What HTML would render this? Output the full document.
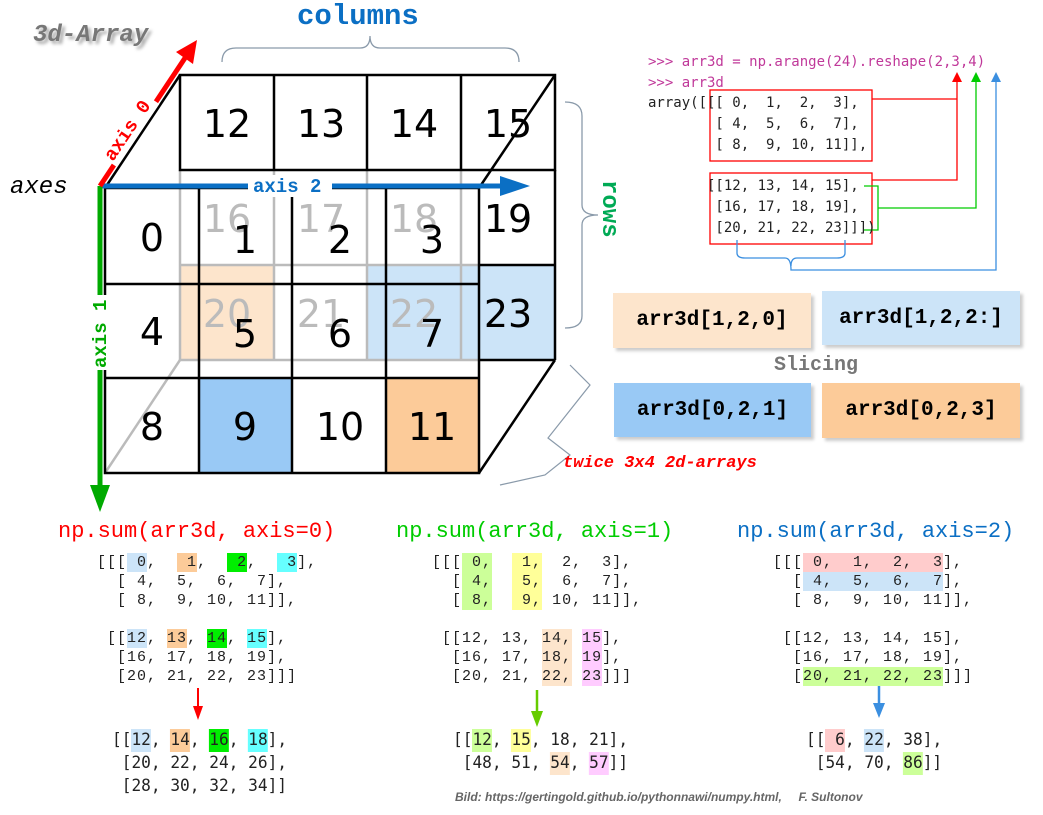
<!DOCTYPE html>
<html><head><meta charset="utf-8"><style>
body{margin:0;background:#fff;width:1043px;height:815px;position:relative;overflow:hidden;font-family:"Liberation Sans",sans-serif}
.a{position:absolute;white-space:pre}
.code{font-family:"Liberation Mono",monospace;font-size:15px;letter-spacing:1px;line-height:19px;color:#222}
.res{font-family:"DejaVu Sans Mono","Liberation Mono",monospace;font-size:17px;line-height:23px;color:#222;transform:scaleX(0.95);transform-origin:left}
.code span,.res span{display:inline-block;line-height:19px;height:19px}
.res span{line-height:23px;height:23px}
.bl{background:#cce4f8}.or{background:#fccb99}.gr{background:#00ee00}.cy{background:#66ffff}
.lg{background:#ccff99}.ye{background:#ffff99}.pe{background:#fde5cc}.pk{background:#ffccff}.rd{background:#ffcccc}
.box{position:absolute;font-family:"Liberation Mono",monospace;font-weight:bold;font-size:21px;color:#000;display:flex;align-items:center;justify-content:center;box-shadow:3px 3px 3px #ccc}
</style></head><body>
<svg width="1043" height="815" style="position:absolute;left:0;top:0">
<rect x="180" y="265" width="94" height="95" fill="#fde5cc"/>
<rect x="367" y="265" width="188" height="95" fill="#cce4f8"/>
<rect x="199" y="378" width="93" height="95" fill="#99c9f5"/>
<rect x="386" y="378" width="93" height="95" fill="#fccb99"/>
<g stroke="#bbb" stroke-width="2.5">
<line x1="180" y1="170" x2="180" y2="360"/><line x1="274" y1="170" x2="274" y2="360"/>
<line x1="367" y1="170" x2="367" y2="360"/><line x1="461" y1="170" x2="461" y2="360"/>
<line x1="180" y1="265" x2="479" y2="265"/><line x1="180" y1="360" x2="479" y2="360"/>
<line x1="180" y1="360" x2="105" y2="473"/>
</g>
<g font-family="DejaVu Sans,sans-serif" font-size="38" fill="#bbb" text-anchor="middle">
<text x="227" y="232">16</text><text x="321" y="232">17</text><text x="414" y="232">18</text>
<text x="227" y="327">20</text><text x="321" y="327">21</text><text x="414" y="327">22</text>
</g>
<g stroke="#000" stroke-width="2.5" fill="none">
<rect x="180" y="75" width="375" height="95"/>
<line x1="274" y1="75" x2="274" y2="170"/><line x1="367" y1="75" x2="367" y2="170"/><line x1="461" y1="75" x2="461" y2="170"/>
<line x1="555" y1="170" x2="555" y2="360"/>
<line x1="479" y1="265" x2="555" y2="265"/><line x1="479" y1="360" x2="555" y2="360"/>
<line x1="555" y1="75" x2="479" y2="188"/><line x1="555" y1="360" x2="479" y2="473"/>
<line x1="105" y1="188" x2="180" y2="75"/>
<rect x="105" y="188" width="374" height="285"/>
<line x1="199" y1="188" x2="199" y2="473"/><line x1="292" y1="188" x2="292" y2="473"/><line x1="386" y1="188" x2="386" y2="473"/>
<line x1="105" y1="284" x2="479" y2="284"/><line x1="105" y1="378" x2="479" y2="378"/>
</g>
<g font-family="DejaVu Sans,sans-serif" font-size="38" fill="#000" text-anchor="middle">
<text x="227" y="137">12</text><text x="321" y="137">13</text><text x="414" y="137">14</text><text x="508" y="137">15</text>
<text x="508" y="232">19</text><text x="508" y="327">23</text>
<text x="152" y="251">0</text><text x="245" y="253">1</text><text x="340" y="253">2</text><text x="432" y="253">3</text>
<text x="152" y="345">4</text><text x="245" y="347">5</text><text x="340" y="347">6</text><text x="432" y="347">7</text>
<text x="152" y="440">8</text><text x="245" y="440">9</text><text x="340" y="440">10</text><text x="432" y="440">11</text>
</g>
<path d="M222,62 Q222,48 236,48 L360,48 Q370,48 370,36 Q370,48 380,48 L505,48 Q519,48 519,62" stroke="#8a9aaa" stroke-width="1.3" fill="none"/>
<path d="M565,102 Q582,102 582,116 L582,205 Q582,215 598,215 Q582,215 582,225 L582,316 Q582,328 565,328" stroke="#8a9aaa" stroke-width="1.3" fill="none"/>
<path d="M570,365 L590,385 L548,438 L570,455 L545,475 L500,485" stroke="#8a9aaa" stroke-width="1.2" fill="none"/>
<line x1="100" y1="186" x2="510" y2="186" stroke="#0b6fc4" stroke-width="5"/>
<path d="M500,176 L530,186 L500,196z" fill="#0b6fc4"/>
<rect x="248" y="175" width="84" height="22" fill="#fff"/>
<line x1="100" y1="186" x2="100" y2="488" stroke="#0a0" stroke-width="5"/>
<path d="M90,485 L100,512 L110,485z" fill="#0a0"/>
<rect x="88" y="295" width="24" height="75" fill="#fff"/>
<line x1="100" y1="186" x2="185" y2="58" stroke="#f00" stroke-width="5"/>
<path d="M176,52 L197,40 L193,64z" fill="#f00"/>
<g transform="translate(113,162) rotate(-56)">
<rect x="-2" y="-16" width="76" height="22" fill="#fff"/>
<text x="0" y="0" font-family="Liberation Mono,monospace" font-weight="bold" font-size="19" fill="#f00">axis 0</text>
</g>
<text x="253" y="192" font-family="Liberation Mono,monospace" font-weight="bold" font-size="19" fill="#0b6fc4">axis 2</text>
<text x="0" y="0" transform="translate(106,368) rotate(-90)" font-family="Liberation Mono,monospace" font-weight="bold" font-size="19" fill="#0a0">axis 1</text>
<rect x="710" y="90" width="162" height="71" fill="none" stroke="#f00" stroke-width="1.3"/>
<rect x="710" y="173" width="162" height="71" fill="none" stroke="#f00" stroke-width="1.3"/>
<path d="M872,99 L957,99 L957,80 M872,180 L957,180 L957,99" stroke="#f00" stroke-width="1.3" fill="none"/>
<path d="M952,82 L957,72 L962,82z" fill="#f00"/>
<path d="M864,186 L878,186 L878,230 L864,230 M878,208 L976,208 L976,80" stroke="#0c0" stroke-width="1.3" fill="none"/>
<path d="M971,82 L976,72 L981,82z" fill="#0c0"/>
<path d="M737,240 L737,253 Q737,258 745,258 L785,258 Q791,258 791,270 L996,270 L996,80 M845,240 L845,253 Q845,258 837,258 L797,258 Q791,258 791,266" stroke="#3b8fe0" stroke-width="1.3" fill="none"/>
<path d="M991,82 L996,72 L1001,82z" fill="#3b8fe0"/>
<line x1="198" y1="688" x2="198" y2="708" stroke="#f00" stroke-width="2"/><path d="M193,706 L198,720 L203,706z" fill="#f00"/>
<line x1="537" y1="690" x2="537" y2="713" stroke="#6c0" stroke-width="2.5"/><path d="M531,711 L537,727 L543,711z" fill="#6c0"/>
<line x1="879" y1="683" x2="879" y2="705" stroke="#3b8fe0" stroke-width="2.5"/><path d="M873,703 L879,718 L885,703z" fill="#3b8fe0"/>
</svg>

<div class="a" style="left:33px;top:22px;font:italic bold 24px 'Liberation Mono',monospace;color:#777;text-shadow:3px 3px 3px #aaa">3d-Array</div>
<div class="a" style="left:297px;top:0px;font:bold 29px 'Liberation Mono',monospace;color:#0b6fc4">columns</div>
<div class="a" style="left:10px;top:174px;font:italic 24px 'Liberation Mono',monospace;color:#000">axes</div>
<div class="a" style="top:180px;font:bold 24px 'Liberation Mono',monospace;color:#0a5;transform:rotate(90deg);transform-origin:left top;left:622px">rows</div>
<div class="a" style="left:563px;top:454px;font:italic bold 17px 'Liberation Mono',monospace;color:#f00">twice 3x4 2d-arrays</div>

<div class="a" style="left:648px;top:52px;font:14px/20.7px 'DejaVu Sans Mono','Liberation Mono',monospace;color:#222"><span style="color:#c0399a">&gt;&gt;&gt; arr3d = np.arange(24).reshape(2,3,4)
&gt;&gt;&gt; arr3d</span>
array([[[ 0,  1,  2,  3],
        [ 4,  5,  6,  7],
        [ 8,  9, 10, 11]],

       [[12, 13, 14, 15],
        [16, 17, 18, 19],
        [20, 21, 22, 23]]])</div>

<div class="box" style="left:613px;top:293px;width:198px;height:55px;background:#fde5cc">arr3d[1,2,0]</div>
<div class="box" style="left:822px;top:291px;width:198px;height:54px;background:#cce4f8">arr3d[1,2,2:]</div>
<div class="a" style="left:774px;top:354px;font:bold 20px 'Liberation Mono',monospace;color:#777">Slicing</div>
<div class="box" style="left:614px;top:383px;width:197px;height:54px;background:#99c9f5">arr3d[0,2,1]</div>
<div class="box" style="left:822px;top:383px;width:198px;height:55px;background:#fccb99">arr3d[0,2,3]</div>

<div class="a" style="left:58px;top:519px;font:22px 'Liberation Mono',monospace;color:#f00">np.sum(arr3d, axis=0)</div>
<div class="a" style="left:396px;top:519px;font:22px 'Liberation Mono',monospace;color:#0c0">np.sum(arr3d, axis=1)</div>
<div class="a" style="left:737px;top:519px;font:22px 'Liberation Mono',monospace;color:#0b6fc4">np.sum(arr3d, axis=2)</div>

<div class="a code" style="left:97px;top:553px">[[[<span class="bl"> 0</span>,  <span class="or"> 1</span>,  <span class="gr"> 2</span>,  <span class="cy"> 3</span>],
  [ 4,  5,  6,  7],
  [ 8,  9, 10, 11]],

 [[<span class="bl">12</span>, <span class="or">13</span>, <span class="gr">14</span>, <span class="cy">15</span>],
  [16, 17, 18, 19],
  [20, 21, 22, 23]]]</div>
<div class="a res" style="left:112px;top:729px">[[<span class="bl">12</span>, <span class="or">14</span>, <span class="gr">16</span>, <span class="cy">18</span>],
 [20, 22, 24, 26],
 [28, 30, 32, 34]]</div>

<div class="a code" style="left:432px;top:553px">[[[<span class="lg"> 0,</span>  <span class="ye"> 1,</span>  2,  3],
  [<span class="lg"> 4,</span>  <span class="ye"> 5,</span>  6,  7],
  [<span class="lg"> 8,</span>  <span class="ye"> 9,</span> 10, 11]],

 [[12, 13, <span class="pe">14,</span> <span class="pk">15</span>],
  [16, 17, <span class="pe">18,</span> <span class="pk">19</span>],
  [20, 21, <span class="pe">22,</span> <span class="pk">23</span>]]]</div>
<div class="a res" style="left:453px;top:729px">[[<span class="lg">12</span>, <span class="ye">15</span>, 18, 21],
 [48, 51, <span class="pe">54</span>, <span class="pk">57</span>]]</div>

<div class="a code" style="left:773px;top:553px">[[[<span class="rd"> 0,  1,  2,  3</span>],
  [<span class="bl"> 4,  5,  6,  7</span>],
  [ 8,  9, 10, 11]],

 [[12, 13, 14, 15],
  [16, 17, 18, 19],
  [<span class="lg">20, 21, 22, 23</span>]]]</div>
<div class="a res" style="left:806px;top:729px">[[<span class="rd"> 6</span>, <span class="bl">22</span>, 38],
 [54, 70, <span class="lg">86</span>]]</div>

<div class="a" style="left:455px;top:790px;font:italic bold 12px 'Liberation Sans',sans-serif;color:#666">Bild: https://gertingold.github.io/pythonnawi/numpy.html,     F. Sultonov</div>
</body></html>
